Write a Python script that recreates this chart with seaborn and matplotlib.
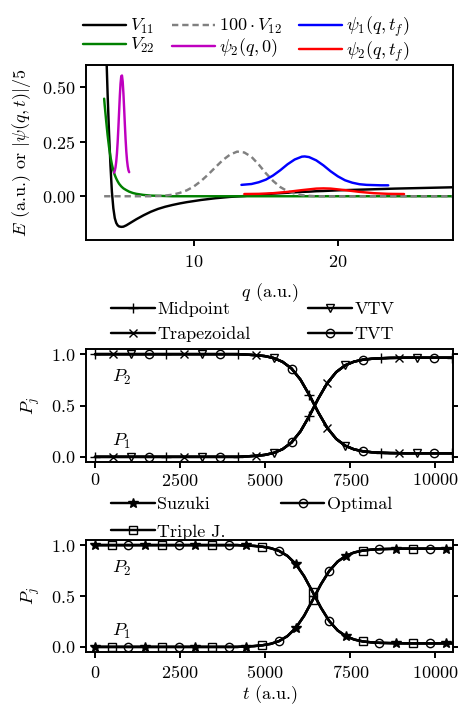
import numpy as np
import matplotlib
matplotlib.use("Agg")
import matplotlib.pyplot as plt
import seaborn as sns

# ---------------- data: top panel (potentials and wave packets) ----------------
q_pot = [3.76, 3.8, 3.9, 4.0, 4.1, 4.2, 4.3, 4.4, 4.5, 4.6, 4.7, 4.8, 4.95, 5.1, 5.3,
         5.5, 5.75, 6.0, 6.5, 7.0, 7.5, 8.0, 8.5, 9.0, 9.5, 10.0, 10.5, 11.0, 11.5,
         12.0, 12.5, 13.0, 13.5, 14.0, 14.5, 15.0, 15.5, 16.0, 16.5, 17.0, 17.5,
         18.0, 18.5, 19.0, 20.0, 22.0, 24.0, 26.0, 28.0]
V11 = [1.00, 0.92, 0.68, 0.47, 0.29, 0.14, 0.02, -0.055, -0.10, -0.122, -0.133, -0.138,
       -0.140, -0.139, -0.133, -0.125, -0.115, -0.105, -0.087, -0.071, -0.058, -0.048,
       -0.040, -0.033, -0.027, -0.022, -0.017, -0.013, -0.009, -0.006, -0.003, -0.001,
       0.001, 0.004, 0.007, 0.009, 0.012, 0.014, 0.016, 0.018, 0.020, 0.021, 0.023,
       0.024, 0.027, 0.031, 0.035, 0.038, 0.041]
V22 = [0.446, 0.415, 0.345, 0.28, 0.225, 0.18, 0.145, 0.118, 0.097, 0.081, 0.068, 0.057,
       0.045, 0.036, 0.028, 0.021, 0.015, 0.011, 0.006, 0.003, 0.002, 0.001, 0.0, 0.0,
       0.0, 0.0, 0.0, 0.0, 0.0, 0.0, 0.0, 0.0, 0.0, 0.0, 0.0, 0.0, 0.0, 0.0, 0.0, 0.0,
       0.0, 0.0, 0.0, 0.0, 0.0, 0.0, 0.0, 0.0, 0.0]
V12x100 = [0.0, 0.0, 0.0, 0.0, 0.0, 0.0, 0.0, 0.0, 0.0, 0.0, 0.0, 0.0, 0.0, 0.0, 0.0,
           0.0, 0.0, 0.0, 0.0, 0.0, 0.001, 0.003, 0.007, 0.015, 0.027, 0.045, 0.070,
           0.100, 0.133, 0.165, 0.190, 0.204, 0.200, 0.180, 0.145, 0.105, 0.070, 0.042,
           0.023, 0.012, 0.005, 0.002, 0.0, 0.0, 0.0, 0.0, 0.0, 0.0, 0.0]

q_psi20 = [4.45, 4.50, 4.55, 4.60, 4.65, 4.70, 4.75, 4.80, 4.85, 4.90, 4.95, 5.00, 5.05,
           5.10, 5.15, 5.20, 5.25, 5.30, 5.35, 5.40, 5.45, 5.50]
psi2_0 = [0.108, 0.117, 0.132, 0.158, 0.196, 0.248, 0.314, 0.386, 0.458, 0.515, 0.549,
          0.552, 0.524, 0.470, 0.401, 0.328, 0.261, 0.205, 0.164, 0.137, 0.119, 0.110]

q_psi1f = [13.3, 14.0, 14.5, 15.0, 15.5, 16.0, 16.5, 17.0, 17.5, 17.7, 18.0, 18.5, 19.0,
           19.5, 20.0, 20.5, 21.0, 21.5, 22.0, 22.5, 23.0, 23.5]
psi1_f = [0.052, 0.056, 0.064, 0.076, 0.095, 0.119, 0.146, 0.168, 0.181, 0.182, 0.179,
          0.164, 0.141, 0.114, 0.091, 0.073, 0.062, 0.055, 0.052, 0.051, 0.050, 0.050]

q_psi2f = [13.5, 14.5, 15.5, 16.5, 17.5, 18.5, 19.0, 19.5, 20.5, 21.5, 22.5, 23.5, 24.6]
psi2_f = [0.0102, 0.011, 0.014, 0.020, 0.028, 0.035, 0.036, 0.035, 0.028, 0.020, 0.014,
          0.011, 0.0102]

# ---------------- data: populations ----------------
t_mid = np.arange(41) * 262.5
P2_mid = [1.0] * 17 + [0.995, 0.990, 0.981, 0.962, 0.925, 0.860, 0.752, 0.601, 0.432,
                       0.282, 0.175, 0.109, 0.073, 0.054, 0.045, 0.040, 0.037, 0.036] + [0.035] * 6
P1_mid = [0.0] * 17 + [0.005, 0.010, 0.019, 0.038, 0.075, 0.140, 0.248, 0.399, 0.568,
                       0.718, 0.825, 0.891, 0.927, 0.946, 0.955, 0.960, 0.963, 0.964] + [0.965] * 6

t_bot = np.arange(44) * 245.83
P2_bot = [1.0] * 18 + [0.996, 0.992, 0.984, 0.970, 0.943, 0.894, 0.814, 0.694, 0.542,
                       0.386, 0.254, 0.162, 0.105, 0.072, 0.054, 0.045, 0.040, 0.038,
                       0.036] + [0.035] * 7
P1_bot = [0.0] * 18 + [0.004, 0.008, 0.016, 0.030, 0.057, 0.106, 0.186, 0.306, 0.458,
                       0.614, 0.746, 0.838, 0.895, 0.928, 0.946, 0.955, 0.960, 0.962,
                       0.964] + [0.965] * 7

mid_methods = ["Midpoint", "Trapezoidal", "VTV", "TVT"]
mid_markers = ["+", "x", "v", "o"]
bot_methods = ["Suzuki", "Triple J.", "Optimal"]
bot_markers = ["*", "s", "o"]

pot_labels = [r"$V_{11}$", r"$V_{22}$", r"$100\cdot V_{12}$", r"$\psi_2(q,0)$",
              r"$\psi_1(q,t_f)$", r"$\psi_2(q,t_f)$"]

# ---------------- style ----------------
sns.set_theme(style="ticks")
plt.rcParams.update({
    "font.family": "cmr10",
    "mathtext.fontset": "cm",
    "axes.formatter.use_mathtext": True,
    "font.size": 13,
    "axes.labelsize": 13,
    "xtick.labelsize": 13,
    "ytick.labelsize": 13,
    "legend.fontsize": 13,
    "axes.edgecolor": "black",
    "axes.labelcolor": "black",
    "text.color": "black",
    "xtick.color": "black",
    "ytick.color": "black",
    "axes.linewidth": 1.4,
    "xtick.major.width": 1.4,
    "ytick.major.width": 1.4,
    "xtick.major.size": 4,
    "ytick.major.size": 4,
})

fig = plt.figure(figsize=(4.58, 7.06), dpi=100)
W = 458.0
H = 706.0
L = 86 / W
AW = 367 / W
ax1 = fig.add_axes([L, 1 - 240 / H, AW, 175 / H])
ax2 = fig.add_axes([L, 1 - 462 / H, AW, 113 / H])
ax3 = fig.add_axes([L, 1 - 652 / H, AW, 112 / H])

lw = 1.75
# ---- top panel ----
sns.lineplot(x=q_pot, y=V11, color="black", lw=lw, ax=ax1, label=pot_labels[0], sort=False)
sns.lineplot(x=q_pot, y=V22, color="#008000", lw=lw, ax=ax1, label=pot_labels[1], sort=False)
sns.lineplot(x=q_pot, y=V12x100, color="#808080", lw=lw, linestyle=(0, (2.6, 1.6)), ax=ax1,
             label=pot_labels[2], sort=False)
sns.lineplot(x=q_psi20, y=psi2_0, color="#bf00bf", lw=lw, ax=ax1, label=pot_labels[3], sort=False)
sns.lineplot(x=q_psi1f, y=psi1_f, color="#0000ff", lw=lw, ax=ax1, label=pot_labels[4], sort=False)
sns.lineplot(x=q_psi2f, y=psi2_f, color="#ff0000", lw=lw, ax=ax1, label=pot_labels[5], sort=False)

ax1.set_xlim(2.5, 28)
ax1.set_ylim(-0.2, 0.6)
ax1.set_xticks([10, 20])
ax1.set_yticks([0.0, 0.25, 0.5])
ax1.tick_params(axis="x", pad=6)
ax1.set_xlabel(r"$q$ (a.u.)", labelpad=8)
ax1.set_ylabel(r"$E$ (a.u.) or $|\psi(q,t)|/5$")
ax1.yaxis.set_label_coords(-0.144, 0.5)
h, l = ax1.get_legend_handles_labels()
ax1.legend(h, l, ncol=3, loc="upper left", bbox_to_anchor=(74 / W, 1 - 6 / H),
           bbox_transform=fig.transFigure, frameon=False, handlelength=2.4,
           handletextpad=0.2, columnspacing=0.95, labelspacing=0.0, borderpad=0.0)

# ---- population panels ----
def pop_panel(ax, t, P1, P2, methods, markers, period, ms_map):
    n = len(methods)
    for i, (name, mk) in enumerate(zip(methods, markers)):
        off = i * (period // n)
        filled = mk in ("*", "+", "x")
        kw = dict(color="black", lw=lw, marker=mk, markevery=(off, period),
                  markersize=ms_map.get(mk, 6), markeredgecolor="black",
                  markeredgewidth=1.0,
                  markerfacecolor="black" if filled else "none", sort=False, ax=ax)
        sns.lineplot(x=t, y=P2, label=name, **kw)
        sns.lineplot(x=t, y=P1, **kw)
    ax.set_xlim(-265, 10520)
    ax.set_ylim(-0.05, 1.05)
    ax.set_xticks([0, 2500, 5000, 7500, 10000])
    ax.set_yticks([0.0, 0.5, 1.0])
    ax.tick_params(axis="y", right=True)
    ax.set_ylabel(r"$P_j$")
    ax.yaxis.set_label_coords(-0.12, 0.5)
    ax.text(500, 0.77, r"$P_2$", va="center", ha="left")
    ax.text(500, 0.15, r"$P_1$", va="center", ha="left")

ms_map = {"+": 7, "x": 6, "v": 6, "o": 6, "*": 7.5, "s": 6}
pop_panel(ax2, t_mid, P1_mid, P2_mid, mid_methods, mid_markers, 8, ms_map)
pop_panel(ax3, t_bot, P1_bot, P2_bot, bot_methods, bot_markers, 6, ms_map)
ax3.tick_params(axis="x", pad=5)
ax3.set_xlabel(r"$t$ (a.u.)", labelpad=1)

for ax, ytop, ls, cs in ((ax2, 285, 0.53, 3.2), (ax3, 480, 0.67, 3.05)):
    h, l = ax.get_legend_handles_labels()
    ax.legend(h, l, ncol=2, loc="upper left", bbox_to_anchor=(95 / W, 1 - ytop / H),
              bbox_transform=fig.transFigure, frameon=False, handlelength=2.4,
              handletextpad=0.15, columnspacing=cs, labelspacing=ls, borderpad=0.4,
              numpoints=1)

fig.savefig("out.png", dpi=100)
